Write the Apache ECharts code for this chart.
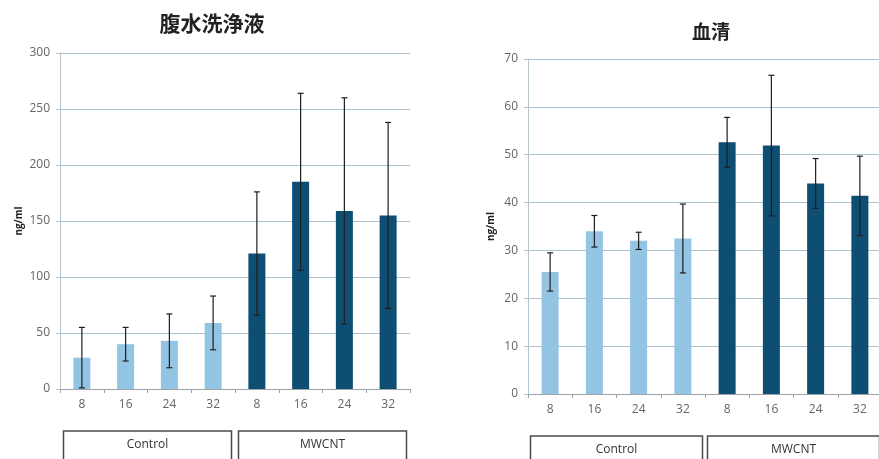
<!DOCTYPE html>
<html>
<head>
<meta charset="utf-8">
<script src="https://cdn.jsdelivr.net/npm/echarts@6/dist/echarts.min.js"></script>
<style>
  html, body { margin: 0; padding: 0; background: #fff; }
  #chart { width: 879px; height: 459px; }
</style>
</head>
<body>
<div id="chart"></div>
<script>
// Sampling hours and exposure groups
const hours = ['8', '16', '24', '32', '8', '16', '24', '32'];
const groups = ['Control', 'MWCNT'];
const groupOf = [0, 0, 0, 0, 1, 1, 1, 1];

// Peritoneal lavage fluid (ng/ml): mean and SD
const lavageMean = [28, 40, 43, 59, 121, 185, 159, 155];
const lavageSd = [27, 15, 24, 24, 55, 79, 101, 83];

// Serum (ng/ml): mean and SD
const serumMean = [25.5, 34, 32, 32.5, 52.6, 51.9, 44, 41.4];
const serumSd = [4, 3.3, 1.8, 7.2, 5.2, 14.7, 5.2, 8.3];

const groupColors = ['#93c4e4', '#0e4e72'];
const fontMain = '"Open Sans", "Noto Sans", sans-serif';
const fontCJK = '"Noto Sans CJK JP", sans-serif';

function barData(means) {
  return means.map((v, i) => ({ value: v, itemStyle: { color: groupColors[groupOf[i]] } }));
}

function errData(means, sds) {
  return means.map((v, i) => [i, v - sds[i], v + sds[i]]);
}

function errorBars(xIdx, yIdx, means, sds) {
  return {
    type: 'custom',
    xAxisIndex: xIdx,
    yAxisIndex: yIdx,
    z: 5,
    data: errData(means, sds),
    renderItem: function (params, api) {
      const x = api.value(0);
      const lo = api.coord([x, api.value(1)]);
      const hi = api.coord([x, api.value(2)]);
      const cap = 3;
      const style = { stroke: '#1e1e1e', lineWidth: 1.2 };
      return {
        type: 'group',
        children: [
          { type: 'line', shape: { x1: lo[0], y1: lo[1], x2: hi[0], y2: hi[1] }, style },
          { type: 'line', shape: { x1: hi[0] - cap, y1: hi[1], x2: hi[0] + cap, y2: hi[1] }, style },
          { type: 'line', shape: { x1: lo[0] - cap, y1: lo[1], x2: lo[0] + cap, y2: lo[1] }, style }
        ]
      };
    }
  };
}

function hourAxis(gridIndex) {
  return {
    type: 'category',
    gridIndex,
    data: hours,
    axisLine: { lineStyle: { color: '#9aa4aa', width: 1 } },
    axisTick: { show: true, length: 4, lineStyle: { color: '#9aa4aa' } },
    axisLabel: { color: '#666', fontSize: 12, fontFamily: fontMain, margin: 10 }
  };
}

function groupAxis(gridIndex, width) {
  return {
    type: 'category',
    gridIndex,
    data: groups,
    position: 'bottom',
    offset: 34,
    axisLine: { show: false },
    axisTick: { show: false },
    axisLabel: {
      interval: 0,
      hideOverlap: false,
      margin: 8,
      color: '#333',
      fontSize: 12,
      fontFamily: fontMain,
      width: width,
      align: 'center',
      padding: [8, 0, 30, 0],
      borderColor: '#4a4a4a',
      borderWidth: 1.5
    }
  };
}

function valueAxis(gridIndex, max, interval) {
  return {
    type: 'value',
    gridIndex,
    min: 0,
    max,
    interval,
    name: 'ng/ml',
    nameLocation: 'middle',
    nameRotate: 90,
    nameTextStyle: { fontSize: 10, fontWeight: 'bold', color: '#222', fontFamily: fontMain },
    axisLine: { show: true, lineStyle: { color: '#b8c4cc' } },
    axisTick: { show: true, length: 4, lineStyle: { color: '#b8c4cc' } },
    axisLabel: { color: '#666', fontSize: 12, fontFamily: fontMain, margin: 10 },
    splitLine: { lineStyle: { color: '#a8c2d2', width: 1 } }
  };
}

const chart = echarts.init(document.getElementById('chart'), null, { renderer: 'canvas' });

const left = valueAxis(0, 300, 50);
left.nameGap = 36;
const right = valueAxis(1, 70, 10);
right.nameGap = 32;

chart.setOption({
  backgroundColor: '#fff',
  animation: false,
  title: [
    { text: '腹水洗浄液', left: 207, top: 8, textAlign: 'center',
      textStyle: { fontSize: 21, fontWeight: 'bold', color: '#222', fontFamily: fontCJK } },
    { text: '血清', left: 706, top: 17, textAlign: 'center',
      textStyle: { fontSize: 19, fontWeight: 'bold', color: '#222', fontFamily: fontCJK } }
  ],
  grid: [
    { left: 60, top: 53, width: 350, height: 336, outerBoundsMode: 'none', containLabel: false },
    { left: 528, top: 59, width: 354, height: 335, outerBoundsMode: 'none', containLabel: false }
  ],
  xAxis: [hourAxis(0), hourAxis(1), groupAxis(0, 168), groupAxis(1, 172)],
  yAxis: [left, right],
  series: [
    { type: 'bar', xAxisIndex: 0, yAxisIndex: 0, barWidth: 17, data: barData(lavageMean) },
    errorBars(0, 0, lavageMean, lavageSd),
    { type: 'bar', xAxisIndex: 1, yAxisIndex: 1, barWidth: 17, data: barData(serumMean) },
    errorBars(1, 1, serumMean, serumSd)
  ]
});
</script>
</body>
</html>
